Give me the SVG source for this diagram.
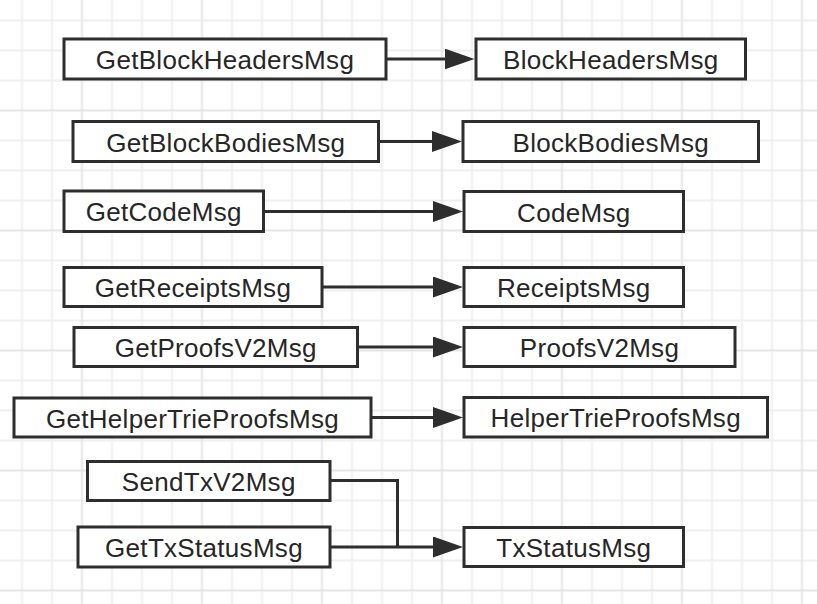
<svg xmlns="http://www.w3.org/2000/svg" width="817" height="604" viewBox="0 0 817 604">
  <style>
    .box { fill: #ffffff; stroke: #2e2e2e; stroke-width: 3; }
    .lbl { font-family: "Liberation Sans", Arial, sans-serif; font-size: 26px; letter-spacing: 0.3px; fill: #262626; text-anchor: middle; }
    .edge { fill: none; stroke: #2e2e2e; stroke-width: 3; }
    .arrow { marker-end: url(#arr); }
  </style>
  <defs>
    <pattern id="grid" patternUnits="userSpaceOnUse" x="-38.5" y="-10" width="120" height="120">
      <path d="M30.5 0V120M60.5 0V120M90.5 0V120M0 30.5H120M0 60.5H120M0 90.5H120" stroke="#efefef" stroke-width="2" fill="none"/>
      <path d="M0.5 0V120M0 0.5H120" stroke="#e5e5e5" stroke-width="2" fill="none"/>
      <path d="M120.5 0V120M0 120.5H120" stroke="#e5e5e5" stroke-width="2" fill="none"/>
    </pattern>
    <marker id="arr" markerUnits="strokeWidth" markerWidth="10" markerHeight="7" refX="5" refY="3.5" orient="auto">
      <path d="M0,0 L10,3.5 L0,7 Z" fill="#2e2e2e"/>
    </marker>
  </defs>
  <rect x="0" y="0" width="817" height="604" fill="#ffffff"/>
  <rect x="0" y="0" width="817" height="604" fill="url(#grid)"/>

  <g id="connectors">
    <path class="edge arrow" d="M387 59H459.5"/>
    <path class="edge arrow" d="M380 141.5H447"/>
    <path class="edge arrow" d="M265 211.5H448"/>
    <path class="edge arrow" d="M323 287H448"/>
    <path class="edge arrow" d="M358 347H448"/>
    <path class="edge arrow" d="M372 417.5H448"/>
    <path class="edge" d="M331 480.5H397.5V547"/>
    <path class="edge arrow" d="M331 547H448"/>
  </g>

  <g id="n1"><rect class="box" x="64" y="39" width="322" height="40"/><text class="lbl" x="225" y="69">GetBlockHeadersMsg</text></g>
  <g id="n2"><rect class="box" x="476" y="39" width="269.5" height="40"/><text class="lbl" x="610.75" y="69">BlockHeadersMsg</text></g>
  <g id="n3"><rect class="box" x="73" y="121.5" width="305.5" height="40"/><text class="lbl" x="225.75" y="151.5">GetBlockBodiesMsg</text></g>
  <g id="n4"><rect class="box" x="463" y="121.5" width="295.5" height="40"/><text class="lbl" x="610.75" y="151.5">BlockBodiesMsg</text></g>
  <g id="n5"><rect class="box" x="64" y="191" width="199.5" height="40.5"/><text class="lbl" x="163.75" y="221">GetCodeMsg</text></g>
  <g id="n6"><rect class="box" x="464" y="191.5" width="219.5" height="40"/><text class="lbl" x="573.75" y="221.5">CodeMsg</text></g>
  <g id="n7"><rect class="box" x="64" y="267.5" width="258" height="39"/><text class="lbl" x="193" y="297">GetReceiptsMsg</text></g>
  <g id="n8"><rect class="box" x="464" y="267.5" width="219.5" height="39"/><text class="lbl" x="573.75" y="297">ReceiptsMsg</text></g>
  <g id="n9"><rect class="box" x="74" y="327.5" width="283.5" height="39"/><text class="lbl" x="215.75" y="357">GetProofsV2Msg</text></g>
  <g id="n10"><rect class="box" x="464" y="327.5" width="271" height="39"/><text class="lbl" x="599.5" y="357">ProofsV2Msg</text></g>
  <g id="n11"><rect class="box" x="14" y="398" width="357" height="39"/><text class="lbl" x="192.5" y="427.5">GetHelperTrieProofsMsg</text></g>
  <g id="n12"><rect class="box" x="464" y="397.5" width="303.5" height="39.5"/><text class="lbl" x="615.75" y="427">HelperTrieProofsMsg</text></g>
  <g id="n13"><rect class="box" x="87.5" y="461.5" width="242.5" height="39"/><text class="lbl" x="208.75" y="491">SendTxV2Msg</text></g>
  <g id="n14"><rect class="box" x="78" y="527" width="252" height="40"/><text class="lbl" x="204" y="557">GetTxStatusMsg</text></g>
  <g id="n15"><rect class="box" x="464" y="527.5" width="219.5" height="39"/><text class="lbl" x="573.75" y="557">TxStatusMsg</text></g>
</svg>
